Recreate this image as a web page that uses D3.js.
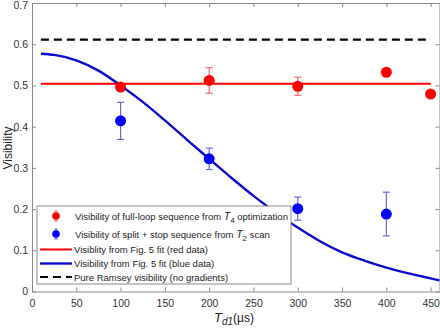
<!DOCTYPE html>
<html>
<head>
<meta charset="utf-8">
<script src="https://cdn.jsdelivr.net/npm/d3@7"></script>
<style>
  body { margin: 0; background: #fff; }
  svg { display: block; font-family: "Liberation Sans", Arial, sans-serif; }
  .axis path, .axis line { stroke: #8a8a8a; }
  .axis text { fill: #333; font-size: 10.5px; }
</style>
</head>
<body>
<svg width="440" height="328"></svg>
<script>
// data
var redT = [100, 200, 300, 400, 450];
var redV = [0.496, 0.512, 0.498, 0.532, 0.479];
var redErr = [0, 0.031, 0.022, 0, 0];

var blueT = [100, 200, 300, 400];
var blueV = [0.414, 0.322, 0.201, 0.188];
var blueErr = [0.045, 0.026, 0.028, 0.053];

var fitT = [10, 25, 50, 75, 100, 125, 150, 175, 200, 225, 250, 275, 300, 325, 350, 375, 400, 425, 450, 460];
var fitBlueV = [0.577, 0.574, 0.561, 0.536, 0.500, 0.460, 0.415, 0.368, 0.322, 0.276, 0.232, 0.192, 0.155, 0.122, 0.095, 0.075, 0.058, 0.044, 0.032, 0.027];

var lineSpan = [10, 450];
var fitRedV = 0.504;
var ramseyV = 0.611;

var xTicks = [0, 50, 100, 150, 200, 250, 300, 350, 400, 450];
var yTicks = [0, 0.1, 0.2, 0.3, 0.4, 0.5, 0.6, 0.7];

var legendLabels = [
    ['Visibility of full-loop sequence from ', 'T', '4', ' optimization'],
    ['Visibility of split + stop sequence from ', 'T', '2', ' scan'],
    ['Visiblity from Fig. 5 fit (red data)'],
    ['Visibility from Fig. 5 fit (blue data)'],
    ['Pure Ramsey visibility (no gradients)']
];

var svg = d3.select('svg');
var plot = {l: 32, r: 439.5, t: 3, b: 291.5};

var xScale = d3.scaleLinear().domain([0, 460]).range([plot.l, plot.r]);
var yScale = d3.scaleLinear().domain([0, 0.7]).range([plot.b, plot.t]);

var red = '#ff0000', blue = '#0000ff', blueLine = '#0a0ad0';

// axes (box style, ticks pointing in)
svg.append('g').attr('class', 'axis')
    .attr('transform', 'translate(0,' + plot.b + ')')
    .call(d3.axisBottom(xScale).tickValues(xTicks).tickSizeInner(-4).tickSizeOuter(0).tickPadding(8));
svg.append('g').attr('class', 'axis')
    .attr('transform', 'translate(0,' + plot.t + ')')
    .call(d3.axisTop(xScale).tickValues(xTicks).tickSizeInner(-4).tickSizeOuter(0).tickFormat(''));
var yAxisG = svg.append('g').attr('class', 'axis')
    .attr('transform', 'translate(' + plot.l + ',0)')
    .call(d3.axisLeft(yScale).tickValues(yTicks).tickSizeInner(-4).tickSizeOuter(0).tickPadding(4)
        .tickFormat(function(d) { return d === 0 ? '0' : d3.format('.1f')(d); }));
// top label sits a little low so it stays inside the frame
yAxisG.selectAll('.tick text').filter(function(d) { return d === 0.7; }).attr('dy', '0.55em');
svg.append('g').attr('class', 'axis')
    .attr('transform', 'translate(' + plot.r + ',0)')
    .call(d3.axisRight(yScale).tickValues(yTicks).tickSizeInner(-4).tickSizeOuter(0).tickFormat(''));

// fit lines
svg.append('line')
    .attr('x1', xScale(lineSpan[0])).attr('x2', xScale(lineSpan[1]))
    .attr('y1', yScale(ramseyV)).attr('y2', yScale(ramseyV))
    .attr('stroke', '#000').attr('stroke-width', 2.2).attr('stroke-dasharray', '8,5');

svg.append('line')
    .attr('x1', xScale(lineSpan[0])).attr('x2', xScale(lineSpan[1]))
    .attr('y1', yScale(fitRedV)).attr('y2', yScale(fitRedV))
    .attr('stroke', red).attr('stroke-width', 2);

var curve = d3.line()
    .x(function(d, i) { return xScale(fitT[i]); })
    .y(function(d) { return yScale(d); })
    .curve(d3.curveMonotoneX);

svg.append('path')
    .datum(fitBlueV)
    .attr('d', curve)
    .attr('fill', 'none')
    .attr('stroke', blueLine)
    .attr('stroke-width', 2.4);

// error bars + points
function drawPoints(ts, vs, errs, color, barColor) {
    var g = svg.append('g');
    ts.forEach(function(t, i) {
        var x = xScale(t);
        if (errs[i] > 0) {
            var y1 = yScale(vs[i] - errs[i]), y2 = yScale(vs[i] + errs[i]);
            g.append('line').attr('x1', x).attr('x2', x).attr('y1', y1).attr('y2', y2)
                .attr('stroke', barColor).attr('stroke-width', 1.2);
            [y1, y2].forEach(function(y) {
                g.append('line').attr('x1', x - 3.5).attr('x2', x + 3.5).attr('y1', y).attr('y2', y)
                    .attr('stroke', barColor).attr('stroke-width', 1.2);
            });
        }
        g.append('circle').attr('cx', x).attr('cy', yScale(vs[i])).attr('r', 5.5).attr('fill', color);
    });
}
drawPoints(redT, redV, redErr, red, '#f26a6a');
drawPoints(blueT, blueV, blueErr, blue, '#6a6ad8');

// legend
var lg = svg.append('g');
lg.append('rect')
    .attr('x', 37).attr('y', 206).attr('width', 254).attr('height', 78)
    .attr('fill', '#fff').attr('stroke', '#8a8a8a').attr('stroke-width', 1);

var rowY = [216, 234, 249.5, 263.5, 277];

[[red, '#f26a6a'], [blue, '#6a6ad8']].forEach(function(c, i) {
    var y = rowY[i];
    lg.append('line').attr('x1', 56).attr('x2', 56).attr('y1', y - 5).attr('y2', y + 5)
        .attr('stroke', c[1]).attr('stroke-width', 1);
    [y - 5, y + 5].forEach(function(yy) {
        lg.append('line').attr('x1', 54).attr('x2', 58).attr('y1', yy).attr('y2', yy)
            .attr('stroke', c[1]).attr('stroke-width', 1);
    });
    lg.append('circle').attr('cx', 56).attr('cy', y).attr('r', 3.8).attr('fill', c[0]);
});

lg.append('line').attr('x1', 40).attr('x2', 72).attr('y1', rowY[2]).attr('y2', rowY[2])
    .attr('stroke', red).attr('stroke-width', 2);
lg.append('line').attr('x1', 40).attr('x2', 72).attr('y1', rowY[3]).attr('y2', rowY[3])
    .attr('stroke', blueLine).attr('stroke-width', 2.4);
lg.append('line').attr('x1', 40).attr('x2', 72).attr('y1', rowY[4]).attr('y2', rowY[4])
    .attr('stroke', '#000').attr('stroke-width', 2.2).attr('stroke-dasharray', '8,5');

legendLabels.forEach(function(parts, i) {
    var t = lg.append('text')
        .attr('x', i < 2 ? 75 : 74).attr('y', rowY[i] + 3.5)
        .attr('fill', '#222').style('font-size', '9.5px');
    t.append('tspan').text(parts[0]);
    if (parts.length > 1) {
        t.append('tspan').style('font-style', 'italic').style('font-size', '10.5px').text(parts[1]);
        t.append('tspan').attr('dy', 3).style('font-size', '8px').text(parts[2]);
        t.append('tspan').attr('dy', -3).text(parts[3]);
    }
});

// axis labels
var xl = svg.append('text')
    .attr('x', 234).attr('y', 322)
    .attr('text-anchor', 'middle')
    .attr('fill', '#222').style('font-size', '12px');
xl.append('tspan').style('font-style', 'italic').style('font-size', '13px').text('T');
xl.append('tspan').attr('dy', 3).style('font-style', 'italic').style('font-size', '10px').text('d1');
xl.append('tspan').attr('dy', -3).text('(\u00b5s)');

svg.append('text')
    .attr('transform', 'translate(12,148) rotate(-90)')
    .attr('text-anchor', 'middle')
    .attr('fill', '#222').style('font-size', '12px')
    .text('Visibility');
</script>
</body>
</html>
